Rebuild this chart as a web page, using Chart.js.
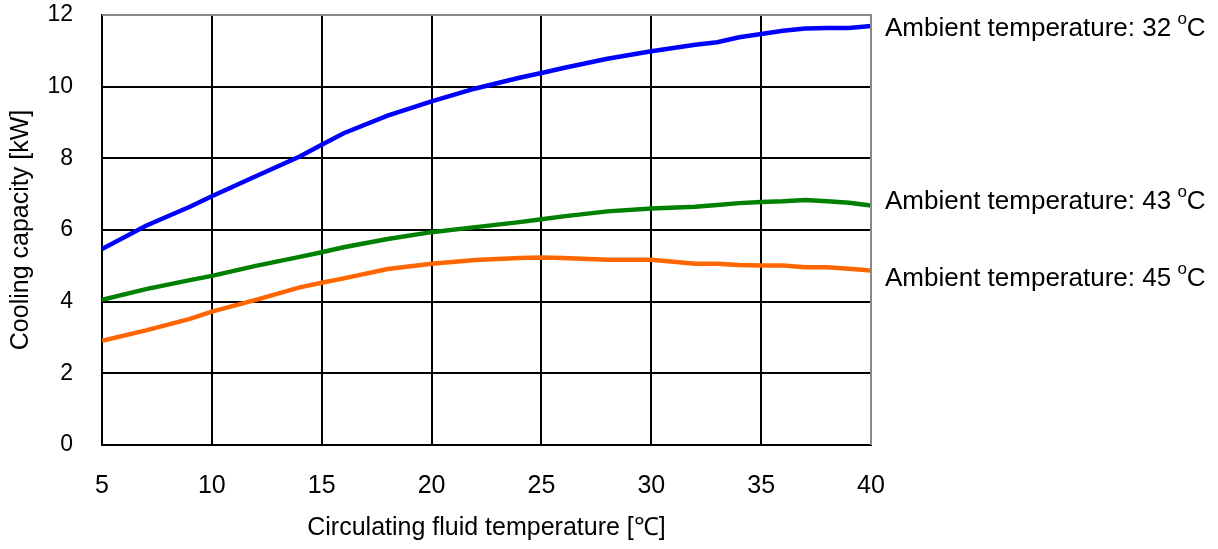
<!DOCTYPE html>
<html>
<head>
<meta charset="utf-8">
<script src="https://cdn.jsdelivr.net/npm/chart.js@4/dist/chart.umd.min.js"></script>
<style>
  html, body { margin: 0; padding: 0; background: #fff; }
  #wrap { width: 1218px; height: 549px; }
</style>
</head>
<body>
<div id="wrap"><canvas id="capChart" width="1218" height="549"></canvas></div>
<script>
// circulating fluid temperature (°C)
const temps = [5, 7, 9, 10, 12, 14, 15, 16, 18, 20, 22, 24, 25, 26, 28, 30, 32, 33, 34, 35, 36, 37, 38, 39, 40];
// cooling capacity (kW) per ambient temperature
const amb32 = [5.47, 6.12, 6.65, 6.94, 7.5, 8.05, 8.38, 8.7, 9.19, 9.59, 9.95, 10.25, 10.38, 10.52, 10.78, 10.99, 11.17, 11.24, 11.38, 11.47, 11.56, 11.62, 11.64, 11.64, 11.69];
const amb43 = [4.05, 4.35, 4.6, 4.72, 5.0, 5.25, 5.38, 5.52, 5.75, 5.94, 6.08, 6.22, 6.3, 6.38, 6.52, 6.6, 6.65, 6.7, 6.75, 6.78, 6.8, 6.84, 6.8, 6.76, 6.68];
const amb45 = [2.91, 3.2, 3.52, 3.72, 4.05, 4.4, 4.53, 4.65, 4.91, 5.06, 5.16, 5.22, 5.23, 5.22, 5.17, 5.17, 5.06, 5.06, 5.02, 5.01, 5.01, 4.96, 4.96, 4.92, 4.87];

const seriesNames = ['32', '43', '45'];
const labelValues = [11.62, 6.8, 4.65]; // where the right-hand labels sit, in kW
const xTicks = [5, 10, 15, 20, 25, 30, 35, 40];
const yTicks = [0, 2, 4, 6, 8, 10, 12];

const FONT = '"Liberation Sans", Arial, sans-serif';

const toPts = arr => arr.map((v, i) => ({ x: temps[i], y: v }));

// right side labels "Ambient temperature: 32 °C"
const sideLabels = {
    id: 'sideLabels',
    afterDraw(chart) {
        const ctx = chart.ctx;
        const ys = chart.scales.y;
        const x0 = chart.chartArea.right + 14;
        ctx.save();
        ctx.fillStyle = '#000';
        ctx.textBaseline = 'middle';
        ctx.textAlign = 'left';
        seriesNames.forEach((n, i) => {
            const y = ys.getPixelForValue(labelValues[i]);
            ctx.font = '26px ' + FONT;
            const main = 'Ambient temperature: ' + n + ' ';
            ctx.fillText(main, x0, y);
            let x = x0 + ctx.measureText(main).width - 1;
            ctx.font = '17px ' + FONT;
            ctx.fillText('o', x, y - 9);
            x += ctx.measureText('o').width;
            ctx.font = '26px ' + FONT;
            ctx.fillText('C', x, y);
        });
        ctx.restore();
    }
};

new Chart(document.getElementById('capChart'), {
    type: 'line',
    data: {
        datasets: [
            { label: 'Ambient temperature: 32 °C', data: toPts(amb32), borderColor: '#0000ff', borderWidth: 4.5 },
            { label: 'Ambient temperature: 43 °C', data: toPts(amb43), borderColor: '#008000', borderWidth: 4.5 },
            { label: 'Ambient temperature: 45 °C', data: toPts(amb45), borderColor: '#ff6600', borderWidth: 4.5 }
        ]
    },
    options: {
        responsive: false,
        animation: false,
        events: [],
        elements: { point: { radius: 0 }, line: { tension: 0, borderCapStyle: 'butt' } },
        layout: { padding: { top: 15, right: 347, left: 0, bottom: 0 } },
        plugins: { legend: { display: false }, tooltip: { enabled: false } },
        scales: {
            x: {
                type: 'linear', min: 5, max: 40,
                afterBuildTicks: s => { s.ticks = xTicks.map(v => ({ value: v })); },
                afterFit: s => { s.height = 104; s.paddingLeft = 0; s.paddingRight = 0; },
                grid: { color: '#000', lineWidth: 2, drawTicks: false },
                border: { color: '#000', width: 2 },
                ticks: { color: '#000', font: { family: FONT, size: 25 }, padding: 26, maxRotation: 0 },
                title: { display: true, text: 'Circulating fluid temperature [℃]', color: '#000', font: { family: FONT, size: 25 }, padding: { top: 6, bottom: 6 } }
            },
            y: {
                type: 'linear', min: 0, max: 12,
                afterBuildTicks: s => { s.ticks = yTicks.map(v => ({ value: v })); },
                afterFit: s => { s.width = 102; s.paddingTop = 0; s.paddingBottom = 0; },
                grid: { color: '#000', lineWidth: 2, drawTicks: false },
                border: { color: '#000', width: 2 },
                ticks: { color: '#000', font: { family: FONT, size: 23 }, padding: 29 },
                title: { display: true, text: 'Cooling capacity [kW]', color: '#000', font: { family: FONT, size: 25 }, padding: { top: 6, bottom: 6 } }
            }
        }
    },
    plugins: [sideLabels, {
        id: 'frame',
        afterDatasetsDraw(chart) {
            const { ctx, chartArea: a } = chart;
            ctx.save();
            ctx.strokeStyle = '#888';
            ctx.lineWidth = 2;
            ctx.beginPath();
            ctx.moveTo(a.left, a.top);
            ctx.lineTo(a.right, a.top);
            ctx.lineTo(a.right, a.bottom);
            ctx.stroke();
            ctx.restore();
        }
    }]
});
</script>
</body>
</html>
